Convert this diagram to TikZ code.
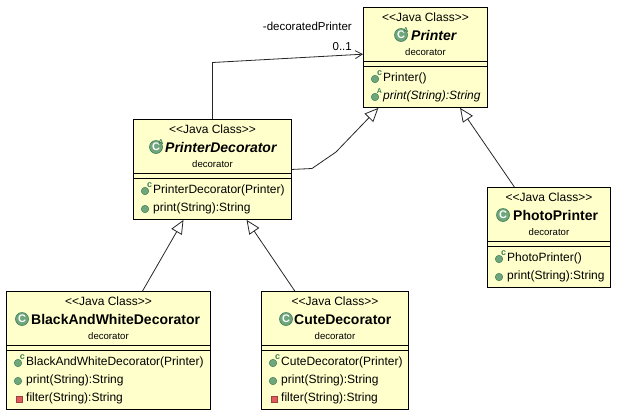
\documentclass[tikz,border=0pt]{standalone}
\usepackage{fontspec}
\setmainfont{Liberation Sans}
\usetikzlibrary{arrows.meta,calc}
\definecolor{classfill}{HTML}{FFFFCC}
\definecolor{icongreen}{HTML}{6FA67C}
\definecolor{iconedge}{HTML}{3F7F55}
\definecolor{privred}{HTML}{E05C5C}
\tikzset{
    classbox/.style={draw=black, fill=classfill, line width=0.9pt, anchor=north west, inner sep=0pt},
    stereo/.style={anchor=base, inner sep=0pt, font=\fontsize{12}{14}\selectfont},
    classname/.style={anchor=base west, inner sep=0pt, font=\fontsize{14}{16}\selectfont\bfseries},
    pkgname/.style={anchor=base, inner sep=0pt, font=\fontsize{9.6}{11}\selectfont},
    member/.style={anchor=base west, inner sep=0pt, font=\fontsize{12}{14}\selectfont},
    assoclabel/.style={anchor=base east, inner sep=0pt, font=\fontsize{11.5}{13}\selectfont},
    classicon/.style={circle, draw=iconedge, fill=icongreen, line width=0.6pt, minimum size=13pt, inner sep=0pt,
        text=white, font=\fontsize{11}{11}\selectfont\bfseries},
    pubdot/.style={circle, draw=iconedge, fill=icongreen, line width=0.5pt, minimum size=7.5pt, inner sep=0pt},
    privsq/.style={rectangle, draw=privred!70!black, fill=privred, line width=0.5pt, minimum size=6pt, inner sep=0pt},
    badge/.style={inner sep=0pt, text=iconedge, font=\fontsize{9}{9}\selectfont\bfseries},
    inherit/.style={draw=black!85, line width=0.8pt, -{Triangle[open, length=13.8pt, width=12pt, fill=white]}},
    assoc/.style={draw=black!85, line width=0.8pt, -{Straight Barb[length=7pt, width=8pt]}}
}
\begin{document}
\begin{tikzpicture}[x=1pt, y=-1pt]
    \useasboundingbox (0, 0) rectangle (617, 416);
    % class boxes
    \foreach \n/\x/\y/\w/\h in {printer/363/7/124/100, pdec/133/119/158/100, bwdec/6/291/204/118, cute/261/291/147/118, photo/487/187/123/100} {
        \node[classbox, minimum width=\w pt, minimum height=\h pt] (\n) at (\x, \y) {};
        \draw[line width=0.9pt] ($(\n.north west)+(0, 54)$) -- ($(\n.north east)+(0, 54)$);
        \draw[line width=0.9pt] ($(\n.north west)+(0, 59)$) -- ($(\n.north east)+(0, 59)$);
        \node[stereo] (\n-stereo) at ($(\n.north)+(0, 14)$) {<{}<Java Class>{}>};
        \node[pkgname] (\n-pkg) at ($(\n.north)+(0, 48)$) {decorator};
    }
    % class names
    \foreach \n/\ix/\tx/\txt in {pdec/23/32/PrinterDecorator, printer/38/48/Printer} {
        \node[classicon] (\n-icon) at ($(\n.north west)+(\ix, 28)$) {C};
        \node[badge, font=\fontsize{7}{7}\selectfont\bfseries] (\n-abs) at ($(\n-icon)+(5, -5)$) {A};
        \node[classname, font=\fontsize{14}{16}\selectfont\bfseries\itshape] (\n-name) at ($(\n.north west)+(\tx, 33)$) {\txt};
    }
    \foreach \n/\ix/\tx/\txt in {bwdec/16/25/BlackAndWhiteDecorator, cute/25/33/CuteDecorator, photo/16/26/PhotoPrinter} {
        \node[classicon] (\n-icon) at ($(\n.north west)+(\ix, 28)$) {C};
        \node[classname] (\n-name) at ($(\n.north west)+(\tx, 33)$) {\txt};
    }
    % constructors
    \foreach \n/\txt in {printer/Printer(), pdec/PrinterDecorator(Printer), bwdec/BlackAndWhiteDecorator(Printer), cute/CuteDecorator(Printer), photo/PhotoPrinter()} {
        \node[pubdot] (\n-cdot) at ($(\n.north west)+(12, 72)$) {};
        \node[badge] (\n-cbadge) at ($(\n-cdot)+(4.5, -5.5)$) {c};
        \node[member] (\n-ctor) at ($(\n.north west)+(20, 74.5)$) {\txt};
    }
    % public and private methods
    \foreach \n in {pdec, bwdec, cute, photo} {
        \node[pubdot] (\n-pdot) at ($(\n.north west)+(12, 90)$) {};
        \node[member] (\n-print) at ($(\n.north west)+(20, 92.5)$) {print(String):String};
    }
    \foreach \n in {bwdec, cute} {
        \node[privsq] (\n-fsq) at ($(\n.north west)+(13, 108)$) {};
        \node[member] (\n-filter) at ($(\n.north west)+(20, 110.5)$) {filter(String):String};
    }
    \node[pubdot] (printer-pdot) at ($(printer.north west)+(12, 90)$) {};
    \node[badge, font=\fontsize{7}{7}\selectfont\bfseries] (printer-abs2) at ($(printer-pdot)+(4.5, -5.5)$) {A};
    \node[member, font=\fontsize{12}{14}\selectfont\itshape] (printer-print) at ($(printer.north west)+(20, 92.5)$) {print(String):String};
    % connectors
    \coordinate (assocbend) at (pdec.north |- 0, 62.5);
    \coordinate (genbend1) at (312, 168.5);
    \coordinate (genbend2) at (336, 152);
    \draw[inherit] (bwdec) -- (pdec);
    \draw[inherit] (cute) -- (pdec);
    \draw[inherit] (photo) -- (printer);
    \draw[inherit] (pdec.east) -- (genbend1) -- (genbend2) -- (printer.227);
    \draw[assoc] (pdec.north) -- (assocbend) -- (printer.177);
    \node[assoclabel] (rolename) at (352, 30) {-decoratedPrinter};
    \node[assoclabel] (multiplicity) at (352, 50) {0..1};
\end{tikzpicture}
\end{document}
